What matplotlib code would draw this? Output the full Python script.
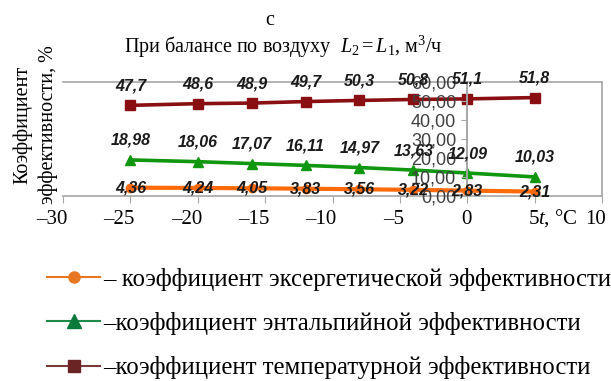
import numpy as np
import matplotlib.pyplot as plt
from matplotlib.lines import Line2D
from matplotlib.spines import Spine
from matplotlib.transforms import ScaledTranslation

plt.rcParams['font.family'] = ['Liberation Serif', 'DejaVu Serif']
plt.rcParams['mathtext.fontset'] = 'custom'
plt.rcParams['mathtext.rm'] = 'Liberation Serif'
plt.rcParams['mathtext.it'] = 'Liberation Serif:italic'

# температура наружного воздуха, °C
t = [-25, -20, -16, -12, -8, -4, 0, 5]
# коэффициенты эффективности, %
k_exerg = [4.36, 4.24, 4.05, 3.83, 3.56, 3.22, 2.83, 2.31]
k_enth = [18.98, 18.06, 17.07, 16.11, 14.97, 13.63, 12.09, 10.03]
k_temp = [47.7, 48.6, 48.9, 49.7, 50.3, 50.8, 51.1, 51.8]

x_ticks = [-30, -25, -20, -15, -10, -5, 0, 5, 10]
y_ticks = [0, 10, 20, 30, 40, 50, 60]

legend_labels = ['– коэффициент эксергетической эффективности',
                 '–коэффициент энтальпийной эффективности',
                 '–коэффициент температурной эффективности']

fig = plt.figure(figsize=(6.11, 3.81), dpi=100)
ax = fig.add_axes([0.1031, 0.4856, 0.8822, 0.2992])

grey = '#a6a6a6'
ax.plot(t, k_exerg, color='#ff6a0a', lw=3, marker='o', ms=6, zorder=2)
ax.plot(t, k_enth, color='#10960f', lw=2.6, marker='^', ms=7, zorder=2)
ax.plot(t, k_temp, color='#8a0f12', lw=2.6, marker='s', ms=6.5, zorder=2)

# подписи значений
lab = dict(ha='center', va='center', fontsize=11.5, fontweight='bold',
           fontstyle='italic', family=['Liberation Sans'], color='#1a1a1a',
           textcoords='offset points', zorder=4)
for xi, v in zip(t, k_temp):
    ax.annotate(f'{v:.1f}'.replace('.', ','), (xi, v), xytext=(0, 14), **lab)
for xi, v in zip(t, k_enth):
    ax.annotate(f'{v:.2f}'.replace('.', ','), (xi, v), xytext=(0, 14), **lab)
for xi, v in zip(t, k_exerg):
    ax.annotate(f'{v:.2f}'.replace('.', ','), (xi, v), xytext=(0, 0), **lab)

ax.set_xlim(-30, 10)
ax.set_ylim(0, 60)

# ось Y проходит через t = 0, рамка остаётся по краям
for s in ax.spines.values():
    s.set_color(grey)
    s.set_linewidth(1.2)
ax.spines['left'].set_position(('data', 0))
frame = Spine.linear_spine(ax, 'left')
frame.set_color(grey)
frame.set_linewidth(1.2)
ax.spines['frame_left'] = frame
ax.set_axisbelow(False)

ax.set_yticks(y_ticks)
ax.set_yticklabels([f'{v},00' for v in y_ticks], family=['Liberation Sans'],
                   fontsize=13, color='#404040')
ax.tick_params(axis='y', length=4, color=grey, pad=4)

ax.set_xticks(x_ticks)
ax.set_xticklabels([f'–{-v}' if v < 0 else str(v) for v in x_ticks],
                   fontsize=15, ha='right')
ax.tick_params(axis='x', length=5, color=grey, pad=5)
shift = ScaledTranslation(3 / 72, 0, fig.dpi_scale_trans)
for lbl in ax.get_xticklabels():
    lbl.set_transform(lbl.get_transform() + shift)

ax.text(0.918, -0.19, '$t$, °C', transform=ax.transAxes, ha='center',
        va='center', fontsize=15)

fig.text(0.442, 0.947, 'с', ha='center', va='center', fontsize=14.5)
fig.text(0.463, 0.878, 'При балансе по воздуху  $L_2 = L_1$, м$^3$/ч',
         ha='center', va='center', fontsize=14.5)
fig.text(0.058, 0.672, 'Коэффициент\nэффективности, %', rotation=90,
         ha='center', va='center', fontsize=14.5, linespacing=1.4)

handles = [
    Line2D([], [], color='#e87722', lw=1.5, marker='o', ms=8),
    Line2D([], [], color='#1e8a4a', lw=1.5, marker='^', ms=10,
           markerfacecolor='#0b7a3a', markeredgecolor='#0b7a3a'),
    Line2D([], [], color='#7a3a3a', lw=1.5, marker='s', ms=9,
           markerfacecolor='#6b2424', markeredgecolor='#6b2424'),
]
fig.legend(handles, legend_labels, loc='upper left',
           bbox_to_anchor=(0.077, 0.297), frameon=False, fontsize=17.8,
           handlelength=2.15, handletextpad=0.12, labelspacing=0.86,
           borderpad=0, borderaxespad=0)

fig.savefig('out.png', dpi=100)
